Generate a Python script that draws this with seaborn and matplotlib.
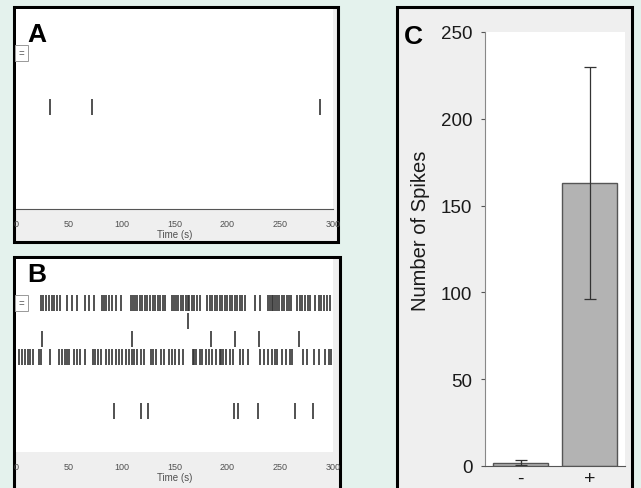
import matplotlib
matplotlib.use("Agg")
import numpy as np
import pandas as pd
import seaborn as sns
import matplotlib.pyplot as plt
from matplotlib.patches import Rectangle

# spike times (s) per raster row
a_row3 = [32, 72, 288]

b_row0 = [23.5, 26, 28.6, 31.1, 33.7, 35.6, 38.7, 41.9, 48.3, 53, 57.8, 65.7, 68.9,
          73.7, 81, 83.2, 85.4, 87.9, 91.1, 94.3, 99, 108.6, 110.8, 112.7, 114.9, 117.1,
          119.7, 122.2, 124.4, 126.7, 129.2, 131.7, 134, 136.2, 138.7, 141, 147.3, 149.5,
          151.4, 153.7, 156.2, 158.4, 161, 162.5, 164.1, 166.7, 168.9, 171.1, 173.7, 181,
          183.2, 185.7, 187.9, 190.2, 192.7, 195.2, 197.5, 199.7, 202.2, 204.8, 207, 209.2,
          211.7, 214.3, 216.5, 226, 230.8, 238.7, 240.3, 241.9, 243.5, 245, 246.7, 248.9,
          251.4, 253.7, 256.2, 258.4, 260.3, 265.7, 268.3, 270.5, 273.7, 275.9, 278.4,
          283.2, 286.3, 288.6, 291.1, 294.3, 297.5]
b_row1 = [163]
b_row2 = [25, 110, 185, 207, 230, 268]
b_row3 = [2.9, 5.4, 8.6, 11.1, 13.3, 16.5, 21.3, 23.8, 32.4, 40.3, 43.5, 46, 48.3, 50.5,
          54.6, 57.8, 60.3, 65.1, 72.7, 75.2, 77.8, 80.9, 84.8, 88, 90.5, 94.3, 97.5,
          100.6, 103.8, 107, 109.5, 111.7, 114.9, 118.1, 121.3, 127.6, 129.2, 132.4,
          137.1, 140.3, 145.1, 147.6, 150.8, 154.6, 157.8, 167.3, 168.9, 170.5, 173.7,
          176.2, 179.4, 182.5, 185.7, 189.5, 192.7, 194.3, 195.9, 199, 202.2, 205.4,
          211.7, 214.9, 219.7, 230.8, 234.6, 238.7, 241.9, 245, 246.7, 251.4, 255.6,
          259.4, 261, 272, 275.2, 281.6, 286.3, 292.7, 295.9, 298.5]
b_row6 = [93, 118, 125, 206, 210, 229, 264, 281]

time_ticks = [0, 50, 100, 150, 200, 250, 300]

conditions = ['-', '+']
spike_means = [2, 163]
spike_err = [1.5, 67]

sns.set_style("white")
plt.rcParams['font.family'] = ['Liberation Sans', 'DejaVu Sans']

W, H = 641, 489
fig = plt.figure(figsize=(W / 100, H / 100), dpi=100)
fig.patch.set_facecolor('#e4f2ed')


def px_axes(x0, y0, x1, y1, **kw):
    return fig.add_axes([x0 / W, 1 - y1 / H, (x1 - x0) / W, (y1 - y0) / H], **kw)


def frame(x0, y0, x1, y1, face='#efefef'):
    fig.patches.append(Rectangle((x0 / W, 1 - y1 / H), (x1 - x0) / W, (y1 - y0) / H,
                                 transform=fig.transFigure, facecolor=face,
                                 edgecolor='black', linewidth=2.2, zorder=-5))


def raster(ax, rows, height_px, show_axis_line):
    px = 18.0
    for pos, times in rows:
        ax.eventplot(times, lineoffsets=pos, linelengths=0.85, linewidths=1.2,
                     colors='#333333')
    top = -44 / px
    ax.set_ylim(top + height_px / px, top)
    ax.set_xlim(0, 300)
    ax.set_facecolor('white')
    ax.set_yticks([])
    ax.set_xticks(time_ticks)
    ax.set_xticklabels([str(t) for t in time_ticks], fontsize=6.5, color='#505050')
    ax.set_xticks([50, 200], minor=True)
    ax.tick_params(axis='x', which='major', length=0, pad=7)
    ax.tick_params(axis='x', which='minor', length=4, direction='in', color='#333333')
    ax.set_xlabel('Time (s)', fontsize=7, color='#505050', labelpad=1)
    for s in ['top', 'right', 'left']:
        ax.spines[s].set_visible(False)
    ax.spines['bottom'].set_visible(show_axis_line)
    ax.spines['bottom'].set_color('#555555')
    ax.text(0.008, 0.0, '=', transform=ax.get_yaxis_transform(), fontsize=7,
            va='center', ha='left', color='#555555',
            bbox=dict(boxstyle='square,pad=0.35', fc='white', ec='#999999', lw=0.7))


# panel A
frame(14, 8, 338, 243)
axA = px_axes(16, 10, 333, 210)
raster(axA, [(3, a_row3)], 200, True)
fig.text(27 / W, 1 - 42 / H, 'A', fontsize=19, fontweight='bold', color='black')

# panel B
frame(14, 258, 340, 495)
axB = px_axes(16, 260, 333, 453)
raster(axB, [(0, b_row0), (1, b_row1), (2, b_row2), (3, b_row3), (6, b_row6)], 193, False)
fig.text(27 / W, 1 - 282 / H, 'B', fontsize=19, fontweight='bold', color='black')

# panel C
frame(397, 8, 632, 495)
axC = px_axes(485, 33, 625, 467)
df = pd.DataFrame({'cond': conditions, 'spikes': spike_means})
sns.barplot(data=df, x='cond', y='spikes', color='#b3b3b3', edgecolor='#555555',
            linewidth=1.0, width=0.8, saturation=1, ax=axC)
axC.errorbar(range(len(conditions)), spike_means, yerr=spike_err, fmt='none',
             ecolor='#333333', elinewidth=0.9, capsize=4, capthick=0.9)
axC.set_xlim(-0.52, 1.51)
axC.set_ylim(0, 250)
axC.set_yticks([0, 50, 100, 150, 200, 250])
axC.tick_params(axis='y', labelsize=13.5, length=3, direction='out', color='#555555',
                labelcolor='#1a1a1a', pad=6, left=True)
axC.tick_params(axis='x', labelsize=14, length=4, direction='in', color='#555555',
                labelcolor='#1a1a1a', pad=3, bottom=True)
axC.set_xlabel('')
axC.set_ylabel('Number of Spikes', fontsize=14.5, color='#1a1a1a')
axC.yaxis.set_label_coords(-0.39, 0.545)
axC.set_facecolor('white')
for s in ['top', 'right']:
    axC.spines[s].set_visible(False)
axC.spines['left'].set_color('#888888')
axC.spines['bottom'].set_color('#555555')
fig.text(404 / W, 1 - 44 / H, 'C', fontsize=19, fontweight='bold', color='black')

fig.savefig('out.png', dpi=100, facecolor=fig.get_facecolor())
